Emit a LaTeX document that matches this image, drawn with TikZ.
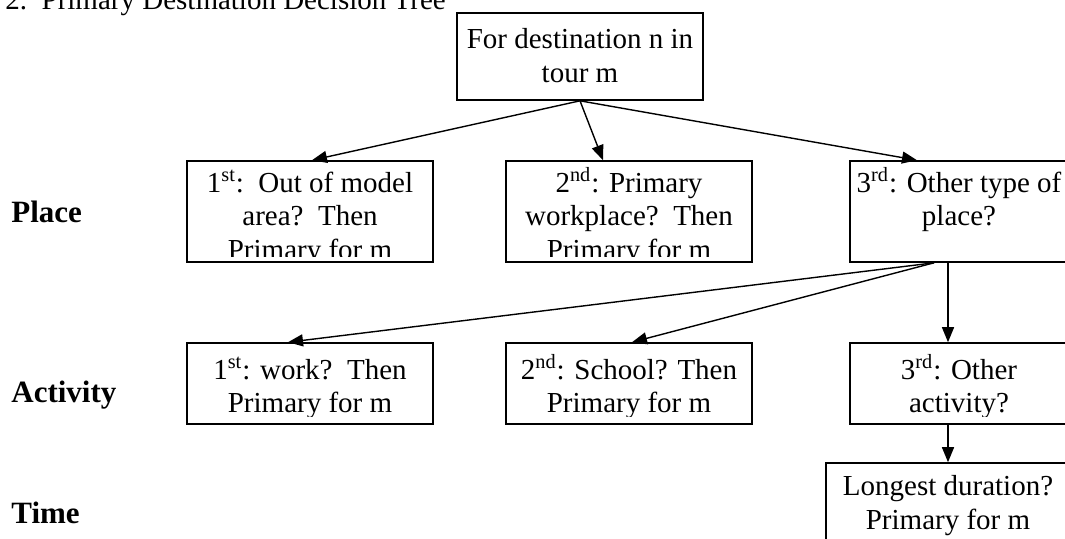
\documentclass[tikz,border=0pt]{standalone}
\usepackage{fontspec}
\setmainfont{Liberation Serif}
\usetikzlibrary{arrows.meta,positioning,calc}
\tikzset{
  stepbox/.style={draw, line width=0.8pt, inner sep=0pt, minimum width=123pt, minimum height=50.5pt},
  boxtext/.style={font=\fontsize{14.5pt}{16.75pt}\selectfont, align=center, inner sep=0pt, anchor=base},
  rowlabel/.style={font=\fontsize{15.5pt}{18pt}\selectfont\bfseries, inner sep=0pt, anchor=base west},
  flow/.style={-{Triangle[length=7.5pt,width=6pt]}, line width=0.7pt}
}

\begin{document}
\begin{tikzpicture}[x=0.5pt,y=-0.5pt]
  \clip (0,0) rectangle (1065,538);
  \fill[white] (0,0) rectangle (1065,538);
  % title and the three levels
  \node[boxtext, anchor=base west] (title) at (5,9) {2.\ \ Primary Destination Decision Tree};
  \node[rowlabel] (lplace) at (11,222) {Place};
  \node[rowlabel] (lact) at (11,402) {Activity};
  \node[rowlabel] (ltime) at (11,523) {Time};
  % boxes (text is cut off at the bottom of each box)
  \node[stepbox, minimum height=43.5pt] (top) at (580,56.5) {};
  \node[stepbox] (p1) at (310,211.5) {};
  \node[stepbox] (p2) at (629,211.5) {};
  \node[stepbox, minimum width=109pt] (p3) at (959,211.5) {};
  \node[stepbox, minimum height=40.5pt] (a1) at (310,383.5) {};
  \node[stepbox, minimum height=40.5pt] (a2) at (629,383.5) {};
  \node[stepbox, minimum width=109pt, minimum height=40.5pt] (a3) at (959,383.5) {};
  \node[stepbox, minimum width=122pt, minimum height=45pt] (t1) at (948,508) {};
  % text, placed by the baseline of its last line
  \node[boxtext] (top-txt) at ([yshift=-35pt]top.north) {For destination n in\\tour m};
  \begin{scope}
    \clip (p1.north west) rectangle ([yshift=3pt]p2.south east);
    \node[boxtext] (p1-txt) at ([yshift=-49.5pt]p1.north) {1\textsuperscript{st}:\ \ Out of model\\area?\ \ Then\\Primary for m};
    \node[boxtext] (p2-txt) at ([yshift=-49.5pt]p2.north) {2\textsuperscript{nd}: Primary\\workplace?\ \ Then\\Primary for m};
  \end{scope}
  \node[boxtext] (p3-txt) at ([yshift=-32.75pt]p3.north) {3\textsuperscript{rd}: Other type of\\place?};
  \begin{scope}
    \clip (a1.north west) rectangle ([yshift=4.25pt]a3.south east);
    \node[boxtext] (a1-txt) at ([yshift=-35.25pt]a1.north) {1\textsuperscript{st}: work?\ \ Then\\Primary for m};
    \node[boxtext] (a2-txt) at ([yshift=-35.25pt]a2.north) {2\textsuperscript{nd}: School? Then\\Primary for m};
    \node[boxtext] (a3-txt) at ([yshift=-35.25pt]a3.north) {3\textsuperscript{rd}: Other\\activity?};
  \end{scope}
  \node[boxtext] (t1-txt) at ([yshift=-33.5pt]t1.north) {Longest duration?\\Primary for m};
  % place level
  \draw[flow] (top.south) -- ([xshift=1pt]p1.north);
  \draw[flow] (top.south) -- ([xshift=-13pt]p2.north);
  \draw[flow] (top.south) -- ([xshift=-21pt]p3.north);
  % activity level
  \draw[flow] ([xshift=-12.5pt]p3.south) -- ([xshift=-11pt]a1.north);
  \draw[flow] ([xshift=-12.5pt]p3.south) -- ([xshift=1.5pt]a2.north);
  \draw[flow] (p3.south -| t1.north) -- (a3.north -| t1.north);
  % time level
  \draw[flow] (a3.south -| t1.north) -- (t1.north);
\end{tikzpicture}
\end{document}
